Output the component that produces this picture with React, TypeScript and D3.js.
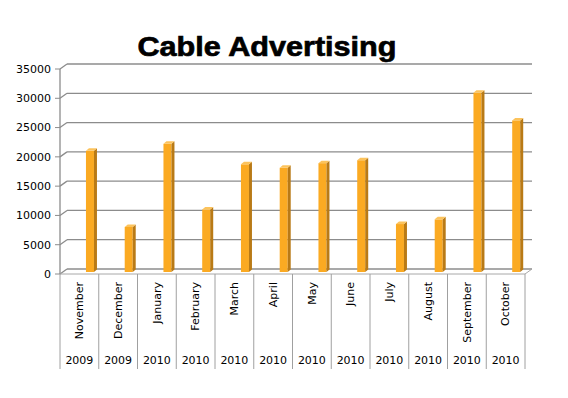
import React from 'react'
import * as d3 from 'd3'

const months = ['November', 'December', 'January', 'February', 'March', 'April', 'May', 'June', 'July', 'August', 'September', 'October']
const years = ['2009', '2009', '2010', '2010', '2010', '2010', '2010', '2010', '2010', '2010', '2010', '2010']
const spend = [20600, 7600, 21800, 10600, 18300, 17700, 18500, 19000, 8100, 8900, 30500, 25800]
const yTicks = [0, 5000, 10000, 15000, 20000, 25000, 30000, 35000]

const W = 568
const H = 398
// depth offset of the 3d box (back wall relative to front)
const dx = 7
const dy = -5
const font = 'DejaVu Sans, sans-serif'

export default function App() {
	const x = d3.scaleBand<string>().domain(months.map((m, i) => i + '')).range([60, 525])
	const y = d3.scaleLinear().domain([0, 35000]).range([274, 69])
	const bw = x.bandwidth()
	const floorY = y(0)

	return (
		<svg width={W} height={H} style={{ position: 'absolute', left: 0, top: 0, background: '#fff' }}>
			<text x={267} y={56} textAnchor="middle" fontFamily="Liberation Sans, Arial, sans-serif" fontWeight="bold" fontSize={28} textLength={259} lengthAdjust="spacingAndGlyphs" stroke="#000" strokeWidth={0.7}>
				Cable Advertising
			</text>

			{/* back wall gridlines with left side wall edge */}
			{yTicks.map((t) => (
				<g key={t}>
					<line x1={60} y1={y(t)} x2={60 + dx} y2={y(t) + dy} stroke="#8c8c8c" strokeWidth={1.3} />
					<line x1={60 + dx} y1={y(t) + dy} x2={525 + dx} y2={y(t) + dy} stroke="#8c8c8c" strokeWidth={1.3} />
					<line x1={55} y1={y(t)} x2={60} y2={y(t)} stroke="#8c8c8c" />
					<text x={51} y={y(t)} dy="0.35em" textAnchor="end" fontFamily={font} fontSize={11}>
						{t}
					</text>
				</g>
			))}
			<line x1={60} y1={y(35000)} x2={60} y2={floorY} stroke="#8c8c8c" strokeWidth={1.3} />

			{/* floor */}
			<line x1={60} y1={floorY} x2={525} y2={floorY} stroke="#a8a8a8" />
			<line x1={525} y1={floorY} x2={525 + dx} y2={floorY + dy} stroke="#a8a8a8" />

			{/* bars */}
			{spend.map((v, i) => {
				const x0 = (x(i + '') as number) + bw * 0.67
				const fw = 8
				const sw = 3
				const top = y(v) - 2.5
				const base = floorY - 2
				return (
					<g key={i}>
						<rect x={x0} y={top} width={fw} height={base - top} fill="#FBAA22" />
						<polygon points={`${x0 + fw},${top} ${x0 + fw + sw},${top - 2.5} ${x0 + fw + sw},${base - 2.5} ${x0 + fw},${base}`} fill="#B97A16" />
						<polygon points={`${x0},${top} ${x0 + sw},${top - 2.5} ${x0 + fw + sw},${top - 2.5} ${x0 + fw},${top}`} fill="#FCC35C" />
					</g>
				)
			})}

			{/* category table */}
			{d3.range(13).map((i) => {
				const xx = 60 + i * bw
				return <line key={i} x1={xx} y1={floorY} x2={xx} y2={369} stroke="#a0a0a0" />
			})}
			{months.map((m, i) => {
				const cx = (x(i + '') as number) + bw / 2
				return (
					<g key={m}>
						<text transform={`translate(${cx},282) rotate(-90)`} dy="0.35em" textAnchor="end" fontFamily={font} fontSize={11}>
							{m}
						</text>
						<text x={cx} y={364} textAnchor="middle" fontFamily={font} fontSize={11}>
							{years[i]}
						</text>
					</g>
				)
			})}
		</svg>
	)
}
